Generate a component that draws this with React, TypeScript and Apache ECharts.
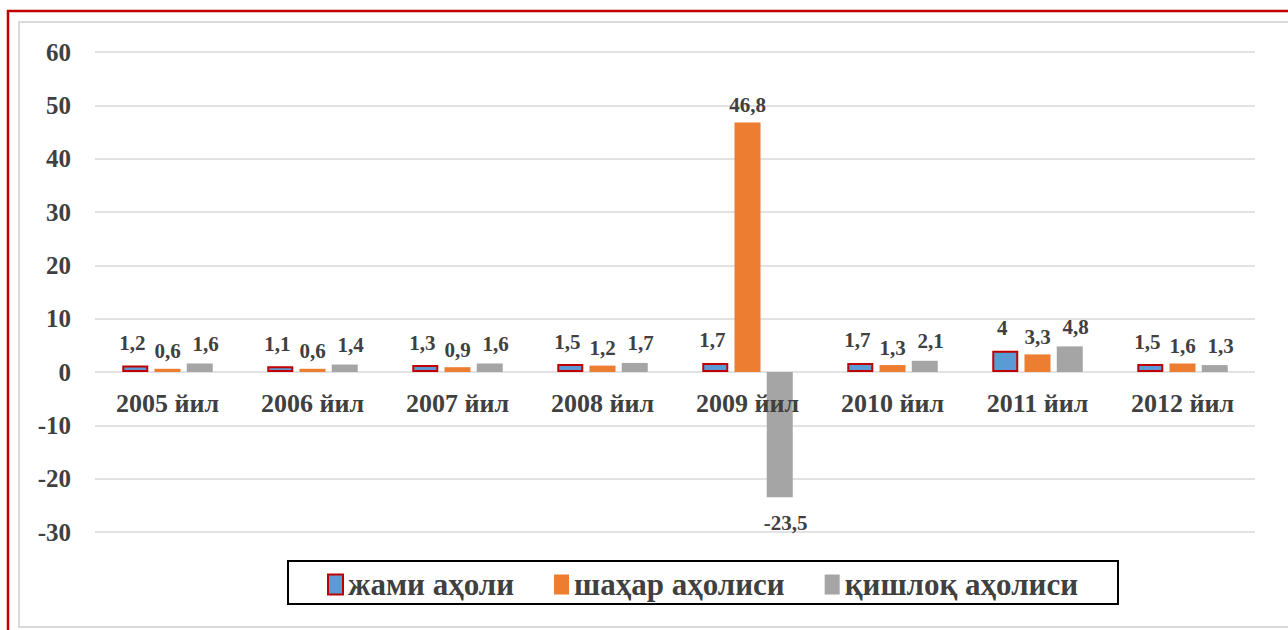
import React, { useEffect, useRef } from "react";
import * as echarts from "echarts";

const categories = ["2005 йил", "2006 йил", "2007 йил", "2008 йил", "2009 йил", "2010 йил", "2011 йил", "2012 йил"];
const seriesNames = ["жами аҳоли", "шаҳар аҳолиси", "қишлоқ аҳолиси"];
const jamiValues = [1.2, 1.1, 1.3, 1.5, 1.7, 1.7, 4, 1.5];
const shaharValues = [0.6, 0.6, 0.9, 1.2, 46.8, 1.3, 3.3, 1.6];
const qishloqValues = [1.6, 1.4, 1.6, 1.7, -23.5, 2.1, 4.8, 1.3];
const yTicks = { min: -30, max: 60, interval: 10 };

const FONT = "'Liberation Serif', 'Times New Roman', serif";
const TEXT = "#404040";

const fmt = (p: any) => String(p.value).replace(".", ",");

function toData(values: number[]) {
  return values.map((v) =>
    v < 0 ? { value: v, label: { position: "bottom", distance: 15 } } : v
  );
}

export default function App() {
  const ref = useRef<HTMLDivElement>(null);
  useEffect(() => {
    if (!ref.current) return;
    const chart = echarts.init(ref.current, undefined, { renderer: "svg" });
    const labelBase = {
      show: true,
      position: "top",
      formatter: fmt,
      fontFamily: FONT,
      fontWeight: "bold",
      fontSize: 21,
      color: TEXT,
    };
    chart.setOption({
      animation: false,
      backgroundColor: "#fff",
      graphic: [
        {
          type: "rect",
          shape: { x: 8, y: 11, width: 1320, height: 700 },
          style: { fill: "none", stroke: "#c00000", lineWidth: 2.5 },
          silent: true,
        },
        {
          type: "rect",
          shape: { x: 19, y: 22, width: 1300, height: 605 },
          style: { fill: "none", stroke: "#d9d9d9", lineWidth: 2 },
          silent: true,
        },
        {
          type: "rect",
          shape: { x: 288, y: 561, width: 830, height: 43 },
          style: { fill: "#fff", stroke: "#000", lineWidth: 2 },
          silent: true,
          z: -1,
        },
      ],
      grid: { left: 95, right: 33, top: 52, bottom: 98, containLabel: false },
      legend: {
        data: seriesNames,
        left: 322,
        top: 564,
        itemWidth: 15,
        itemHeight: 20,
        itemGap: 40,
        icon: "rect",
        textStyle: { fontFamily: FONT, fontWeight: "bold", fontSize: 31, lineHeight: 31, color: TEXT },
        z: 10,
      },
      xAxis: {
        type: "category",
        data: categories,
        z: 5,
        axisLine: { show: false },
        axisTick: { show: false },
        axisLabel: { fontFamily: FONT, fontWeight: "bold", fontSize: 26, color: TEXT, margin: -142 },
      },
      yAxis: {
        type: "value",
        min: yTicks.min,
        max: yTicks.max,
        interval: yTicks.interval,
        axisLine: { show: false },
        axisTick: { show: false },
        splitLine: { lineStyle: { color: "#d9d9d9", width: 1.5 } },
        axisLabel: { fontFamily: FONT, fontWeight: "bold", fontSize: 25, color: TEXT, margin: 24 },
      },
      series: [
        {
          name: seriesNames[0],
          type: "bar",
          data: toData(jamiValues),
          barWidth: 26,
          barGap: "24%",
          itemStyle: { color: "#5b9bd5", borderColor: "#c00000", borderWidth: 2 },
          label: { ...labelBase, distance: 12, offset: [-3, 0] },
        },
        {
          name: seriesNames[1],
          type: "bar",
          data: toData(shaharValues),
          barWidth: 26,
          barGap: "24%",
          itemStyle: { color: "#ed7d31" },
          label: { ...labelBase, distance: 7 },
        },
        {
          name: seriesNames[2],
          type: "bar",
          data: toData(qishloqValues),
          barWidth: 26,
          barGap: "24%",
          itemStyle: { color: "#a5a5a5" },
          label: { ...labelBase, distance: 9, offset: [6, 0] },
        },
      ],
    });
    return () => chart.dispose();
  }, []);
  return (
    <div style={{ position: "absolute", left: 0, top: 0, width: 1288, height: 630 }}>
      <div ref={ref} style={{ width: 1288, height: 630 }} />
    </div>
  );
}
